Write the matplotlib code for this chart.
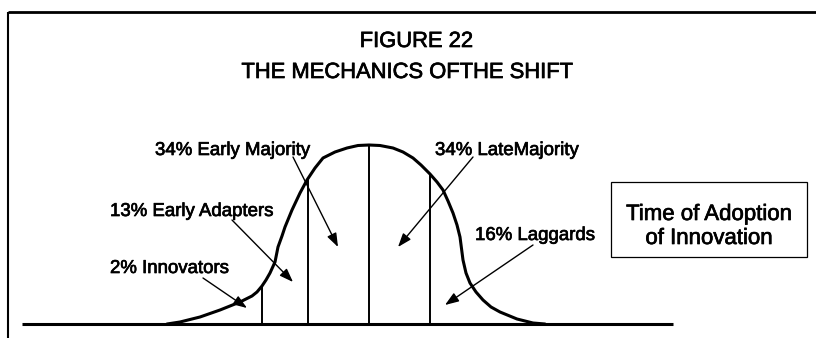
import numpy as np
import matplotlib
matplotlib.use("Agg")
import matplotlib.pyplot as plt
from matplotlib.patches import Rectangle
import matplotlib.patheffects as pe

plt.rcParams['font.family'] = ['Liberation Sans', 'DejaVu Sans']

# ---- data ----
title_lines = ["FIGURE 22", "THE MECHANICS OFTHE SHIFT"]
segment_names = ["Innovators", "Early Adapters", "Early Majority", "LateMajority", "Laggards"]
segment_shares = [2, 13, 34, 34, 16]
segment_bounds = [-107, -61, 0, 61]          # time-of-adoption dividers
box_lines = ["Time of Adoption", "of Innovation"]

# adoption curve (time offset from mean, relative number of adopters)
curve_t = [-202, -189, -169, -149, -129, -117, -112, -107, -103, -99, -94, -91, -87, -84,
           -77, -69, -62, -54, -46, -34, -22, -11, 0, 11, 24, 34, 44, 52, 61, 68, 74,
           79, 84, 88, 91, 94, 97, 101, 107, 114, 122, 131, 148, 164, 176]
curve_h = [0, 2, 7, 14, 22, 28, 32, 38, 44, 51, 62, 77, 88, 97,
           114, 131, 144, 156, 166, 172, 176, 178.5, 179, 178.5, 176, 172, 166, 159, 150, 142, 134,
           123, 111, 99, 87, 64, 51, 41, 32, 24, 17, 12, 5, 1, 0]

# ---- figure ----
fig = plt.figure(figsize=(8.16, 3.38), dpi=100)
ax = fig.add_axes([0, 0, 1, 1])
ax.set_xlim(-369, 447)
ax.set_ylim(-14, 324)
ax.axis('off')

bold = [pe.withStroke(linewidth=0.5, foreground='black')]

# frame (top and left)
ax.plot([-361, 447], [312, 312], color='black', lw=2.0, solid_capstyle='butt')
ax.plot([-361, -361], [312, -14], color='black', lw=1.5, solid_capstyle='butt')

# titles
ax.text(47.5, 277, title_lines[0], ha='center', va='baseline', fontsize=15.8,
        color='black', path_effects=bold)
ax.text(38.5, 246, title_lines[1], ha='center', va='baseline', fontsize=15.8,
        color='black', path_effects=bold)

# baseline axis
ax.plot([-347, 304], [0, 0], color='black', lw=2.2, solid_capstyle='butt')

# curve
ax.plot(curve_t, curve_h, color='black', lw=2.2, solid_joinstyle='round', solid_capstyle='round')

# dividers
for b in segment_bounds:
    top = np.interp(b, curve_t, curve_h)
    ax.plot([b, b], [0, top], color='black', lw=1.4, solid_capstyle='butt')

# labels and arrows
label_pos = [(-259, 51), (-259, 108), (-214, 169), (66, 169), (106, 84)]
arrow_from = [(-166, 46), (-137, 104), (-76, 167), (104, 167), (164, 79)]
arrow_to = [(-122, 16), (-76, 42), (-31, 77), (29, 77), (76, 19)]
for name, share, lp, af, at in zip(segment_names, segment_shares, label_pos, arrow_from, arrow_to):
    ax.text(lp[0], lp[1], f"{share}% {name}", ha='left', va='baseline', fontsize=13.4,
            color='black', path_effects=bold)
    ax.annotate('', xy=at, xytext=af,
                arrowprops=dict(arrowstyle='-|>,head_length=0.55,head_width=0.2',
                                mutation_scale=15, lw=1.0, color='black',
                                shrinkA=0, shrinkB=0))

# box
ax.add_patch(Rectangle((242, 67), 196, 75, fill=False, edgecolor='black', lw=0.9))
ax.text(340, 104, box_lines[0], ha='center', va='baseline', fontsize=16, color='black',
        path_effects=bold)
ax.text(340, 80, box_lines[1], ha='center', va='baseline', fontsize=16, color='black',
        path_effects=bold)

fig.savefig("out.png", dpi=100)
